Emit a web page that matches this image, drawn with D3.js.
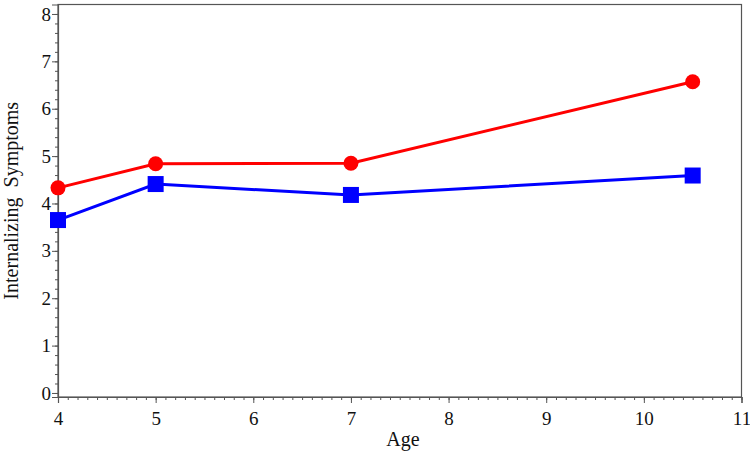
<!DOCTYPE html>
<html><head><meta charset="utf-8">
<script src="https://cdn.jsdelivr.net/npm/d3@7"></script>
<style>body{margin:0;background:#fff}svg{display:block}
text{font-family:'Liberation Serif','Times New Roman',serif}</style>
</head><body><svg id="c" width="750" height="455"></svg>
<script>
const ages = [4, 5, 7, 10.5];
const redValues = [4.33, 4.84, 4.85, 6.57];
const blueValues = [3.65, 4.41, 4.18, 4.59];
const xTicks = [4, 5, 6, 7, 8, 9, 10, 11];
const yTicks = [0, 1, 2, 3, 4, 5, 6, 7, 8];
const xTitle = "Age";
const yTitle = "Internalizing  Symptoms";

const svg = d3.select("#c");
const L = 58, R = 741.5, T = 4.5, B = 397;
const x = d3.scaleLinear().domain([4, 11]).range([L, R]);
const y = d3.scaleLinear().domain([-0.085, 8.2]).range([B, T]);
const font = "'Liberation Serif', 'Times New Roman', serif";
const axisCol = "#555";

svg.append("rect").attr("x", L).attr("y", T).attr("width", R - L).attr("height", B - T)
  .attr("fill", "none").attr("stroke", axisCol).attr("stroke-width", 1.2);

const xMinor = d3.range(40, 111).map(d => d / 10);
const xa = svg.append("g").attr("transform", `translate(0,${B})`)
  .call(d3.axisBottom(x).tickValues(xMinor).tickSize(3).tickFormat(""));
xa.select(".domain").remove();
xa.selectAll("line").attr("stroke", axisCol);
const xb = svg.append("g").attr("transform", `translate(0,${B})`)
  .call(d3.axisBottom(x).tickValues(xTicks).tickSize(6).tickPadding(9).tickFormat(d3.format("d")));
xb.attr("font-family", font).attr("font-size", 19);
xb.select(".domain").attr("stroke", axisCol).attr("stroke-width", 1.2);
xb.selectAll("line").attr("stroke", axisCol);
xb.selectAll("text").style("font-family", font).style("font-size", "19px").attr("fill", "#111");

const yMinor = d3.range(0, 41).map(d => d / 5);
const ya = svg.append("g").attr("transform", `translate(${L},0)`)
  .call(d3.axisLeft(y).tickValues(yMinor).tickSize(3).tickFormat(""));
ya.select(".domain").remove();
ya.selectAll("line").attr("stroke", axisCol);
const yb = svg.append("g").attr("transform", `translate(${L},0)`)
  .call(d3.axisLeft(y).tickValues(yTicks).tickSize(6).tickPadding(1).tickFormat(d3.format("d")));
yb.attr("font-family", font).attr("font-size", 19);
yb.select(".domain").attr("stroke", axisCol).attr("stroke-width", 1.2);
yb.selectAll("line").attr("stroke", axisCol);
yb.selectAll("text").style("font-family", font).style("font-size", "19px").attr("fill", "#111");

svg.append("text").attr("x", 403).attr("y", 446).attr("text-anchor", "middle")
  .style("font-family", font).style("font-size", "20px").attr("fill", "#111").text(xTitle);
svg.append("text").attr("transform", `translate(18,${(T + B) / 2}) rotate(-90)`).attr("text-anchor", "middle")
  .style("font-family", font).style("font-size", "20px").attr("fill", "#111").style("white-space", "pre").text(yTitle);

const line = d3.line().x(d => x(d[0])).y(d => y(d[1]));
const blue = ages.map((a, i) => [a, blueValues[i]]);
const red = ages.map((a, i) => [a, redValues[i]]);

svg.append("path").datum(blue).attr("d", line).attr("fill", "none").attr("stroke", "#0000ff").attr("stroke-width", 3);
svg.selectAll(".sq").data(blue).enter().append("rect")
  .attr("x", d => x(d[0]) - 8).attr("y", d => y(d[1]) - 8).attr("width", 16).attr("height", 16).attr("fill", "#0000ff");

svg.append("path").datum(red).attr("d", line).attr("fill", "none").attr("stroke", "#ff0000").attr("stroke-width", 3);
svg.selectAll(".ci").data(red).enter().append("circle")
  .attr("cx", d => x(d[0])).attr("cy", d => y(d[1])).attr("r", 7.5).attr("fill", "#ff0000");
</script></body></html>
